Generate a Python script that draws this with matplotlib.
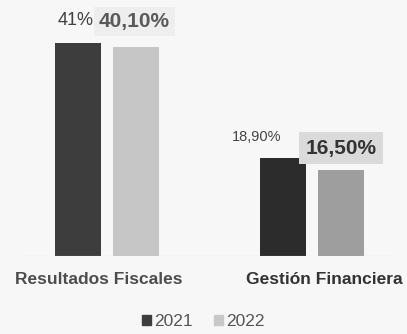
import matplotlib.pyplot as plt
from matplotlib.patches import Patch
import numpy as np

categories = ["Resultados Fiscales", "Gestión Financiera"]
series_names = ["2021", "2022"]
values_2021 = [41.0, 18.9]
values_2022 = [40.1, 16.5]
labels_2021 = ["41%", "18,90%"]
labels_2022 = ["40,10%", "16,50%"]

plt.rcParams["font.family"] = ["Liberation Sans", "DejaVu Sans"]

W, H = 407, 334
fig = plt.figure(figsize=(W / 100, H / 100), dpi=100)
fig.patch.set_facecolor("#f7f7f7")

# axes span full width; baseline sits at 256px from top
ax = fig.add_axes([0, 1 - 256 / H, 1, 256 / H])
ax.set_facecolor("none")
ax.set_xlim(-107 / 205, (W - 107) / 205)
ax.set_ylim(0, 256 / 5.2)
ax.axis("off")

x = np.arange(len(categories))
width = 46 / 205
offset = 29 / 205

colors_2021 = ["#3d3d3d", "#2c2c2c"]
colors_2022 = ["#c6c6c6", "#9e9e9e"]

ax.bar(x - offset, values_2021, width, color=colors_2021)
ax.bar(x + offset, values_2022, width, color=colors_2022)

# baseline
ax.plot([-87 / 205, (395 - 107) / 205], [0, 0], color="#c8c8c8", lw=0.8)

# value labels
ax.annotate(labels_2021[0], (x[0] - offset, values_2021[0]), xytext=(-2, 22),
            textcoords="offset pixels", ha="center", va="center",
            fontsize=13, color="#404040")
ax.annotate(labels_2022[0], (x[0] + offset, values_2022[0]), xytext=(-1.5, 26),
            textcoords="offset pixels", ha="center", va="center",
            fontsize=15, fontweight="bold", color="#5a5a5a",
            bbox=dict(boxstyle="square,pad=0.25", fc="#eeeeee", ec="none"))
ax.annotate(labels_2021[1], (x[1] - offset, values_2021[1]), xytext=(-26, 21),
            textcoords="offset pixels", ha="center", va="center",
            fontsize=10.5, color="#444444")
ax.annotate(labels_2022[1], (x[1] + offset, values_2022[1]), xytext=(0, 22),
            textcoords="offset pixels", ha="center", va="center",
            fontsize=15, fontweight="bold", color="#333333",
            bbox=dict(boxstyle="square,pad=0.3", fc="#dadada", ec="none"))

# category labels
ax.annotate(categories[0], (x[0], 0), xytext=(-8, -24), textcoords="offset pixels",
            ha="center", va="center", fontsize=12.5, fontweight="bold",
            color="#4d4d4d", annotation_clip=False)
ax.annotate(categories[1], (x[1], 0), xytext=(12, -24), textcoords="offset pixels",
            ha="center", va="center", fontsize=12.5, fontweight="bold",
            color="#333333", annotation_clip=False)

handles = [Patch(color="#3d3d3d"), Patch(color="#c8c8c8")]
fig.legend(handles, series_names, loc="center", bbox_to_anchor=(0.5, 1 - 322 / H),
           ncol=2, frameon=False, fontsize=12.5, labelcolor="#555555",
           handlelength=0.5, handleheight=0.5, handletextpad=0.2, columnspacing=1.2)

fig.savefig("out.png", dpi=100, facecolor=fig.get_facecolor())
